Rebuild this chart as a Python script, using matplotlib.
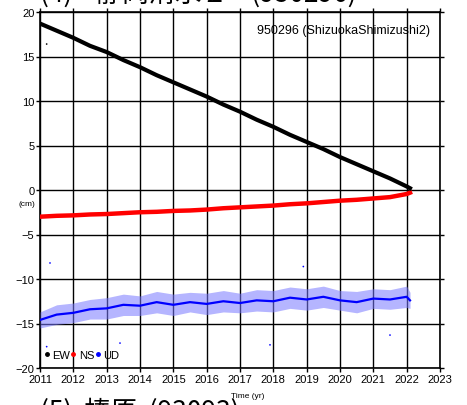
import matplotlib
matplotlib.use('Agg')
import matplotlib.pyplot as plt
import numpy as np

plt.rcParams['font.family'] = ['Liberation Sans', 'DejaVu Sans']

# sample times (yr) and values (cm)
t = [2011.0, 2011.5, 2012.0, 2012.5, 2013.0, 2013.5, 2014.0, 2014.5, 2015.0, 2015.5,
     2016.0, 2016.5, 2017.0, 2017.5, 2018.0, 2018.5, 2019.0, 2019.5, 2020.0, 2020.5,
     2021.0, 2021.5, 2022.0, 2022.1]
ew = [18.7, 17.9, 17.1, 16.2, 15.5, 14.6, 13.8, 12.9, 12.1, 11.3,
      10.5, 9.6, 8.8, 7.9, 7.1, 6.2, 5.4, 4.6, 3.7, 2.9,
      2.1, 1.3, 0.4, 0.2]
ns = [-3.0, -2.9, -2.85, -2.75, -2.7, -2.6, -2.5, -2.45, -2.35, -2.3,
      -2.2, -2.05, -1.95, -1.85, -1.75, -1.6, -1.5, -1.35, -1.2, -1.1,
      -0.95, -0.8, -0.45, -0.3]
ud = [-14.6, -14.0, -13.8, -13.4, -13.3, -12.9, -13.0, -12.6, -12.9, -12.6,
      -12.8, -12.5, -12.7, -12.4, -12.5, -12.1, -12.3, -12.0, -12.4, -12.6,
      -12.2, -12.3, -12.0, -12.4]
ud_spread = [0.9, 1.1, 1.1, 1.1, 1.2, 1.2, 1.1, 1.2, 1.2, 1.1,
             1.2, 1.2, 1.1, 1.2, 1.2, 1.2, 1.2, 1.2, 1.1, 1.2,
             1.1, 1.1, 1.2, 0.9]

# isolated outliers
out_t = [2011.2, 2011.3, 2011.2, 2013.4, 2018.9, 2021.5, 2017.9]
out_v = [16.4, -8.2, -17.6, -17.2, -8.6, -16.3, -17.4]
out_c = ['black', 'blue', 'blue', 'blue', 'blue', 'blue', 'blue']

years = list(range(2011, 2024))
yticks = [20, 15, 10, 5, 0, -5, -10, -15, -20]

fig = plt.figure(figsize=(4.67, 4.06), dpi=100)
ax = fig.add_axes([40 / 467, 1 - 369 / 406, 400 / 467, 356 / 406])

ud_lo = np.array(ud) - np.array(ud_spread)
ud_hi = np.array(ud) + np.array(ud_spread)
ax.fill_between(t, ud_lo, ud_hi, color='#7878ff', alpha=0.55, lw=0, zorder=3)
ax.plot(t, ud, color='blue', lw=1.6, zorder=4)
ax.plot(t, ns, color='red', lw=3.2, zorder=4)
ax.plot(t, ew, color='black', lw=3.0, zorder=4)
ax.scatter(out_t, out_v, s=1.5, c=out_c, zorder=4, lw=0)

ax.set_xlim(2011, 2023)
ax.set_ylim(-20, 20)
ax.set_xticks(years)
ax.set_yticks(yticks)
ax.tick_params(direction='out', length=3, width=1, labelsize=8, pad=1,
               top=True, right=True, colors='black')
ax.grid(True, color='black', lw=1.0, zorder=1)
for s in ax.spines.values():
    s.set_linewidth(1.2)

# legend
hs = [plt.Line2D([], [], ls='', marker='o', ms=2.5, color=c) for c in ['black', 'red', 'blue']]
ax.legend(hs, ['EW', 'NS', 'UD'], loc='lower left', ncol=3, frameon=False, fontsize=8,
          handlelength=0.4, handletextpad=0.3, columnspacing=0.1,
          borderaxespad=0.0, bbox_to_anchor=(0.0, 0.01))

ax.text(0.975, 0.965, '950296 (ShizuokaShimizushi2)', transform=ax.transAxes,
        ha='right', va='top', fontsize=9)
fig.text(27 / 467, 1 - 204 / 406, '(cm)', fontsize=6, ha='center', va='center')
fig.text(248 / 467, 1 - 397 / 406, 'Time (yr)', fontsize=6, ha='center', va='center')

# station titles of the neighbouring panels, cut off by the page edge as in the source page
cjk = ['Noto Sans CJK JP', 'DejaVu Sans']
fig.text(40 / 467, 1 - 2 / 406, '(4)    静岡清水２    (950296)', fontsize=19,
         family=cjk, ha='left', va='baseline')
fig.text(40 / 467, 1 - 420 / 406, '(5)  榛原  (93093)', fontsize=19,
         family=cjk, ha='left', va='baseline')

fig.savefig('out.png', dpi=100)
